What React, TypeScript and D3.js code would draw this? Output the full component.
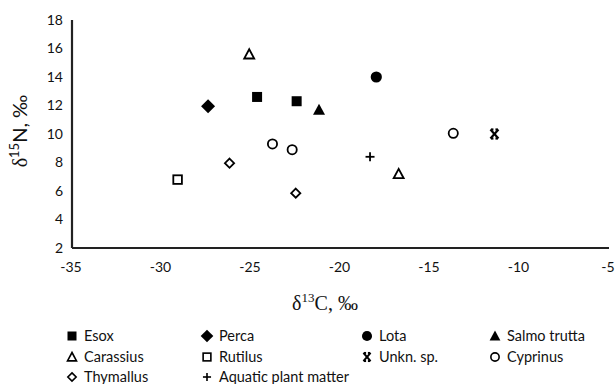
import React from "react";
import * as d3 from "d3";

const species = ["Esox", "Perca", "Lota", "Salmo trutta", "Carassius", "Rutilus", "Unkn. sp.", "Cyprinus", "Thymallus", "Aquatic plant matter"];
const markerKinds = ["squareFill", "diamondFill", "circleFill", "triangleFill", "triangleOpen", "squareOpen", "star", "circleOpen", "diamondOpen", "plus"];
const pointSpecies = ["Esox", "Esox", "Perca", "Lota", "Salmo trutta", "Carassius", "Carassius", "Rutilus", "Unkn. sp.", "Cyprinus", "Cyprinus", "Cyprinus", "Thymallus", "Thymallus", "Aquatic plant matter"];
const d13C = [-24.66, -22.45, -27.4, -18.0, -21.2, -25.1, -16.75, -29.1, -11.4, -23.8, -22.7, -13.7, -26.2, -22.5, -18.35];
const d15N = [12.6, 12.3, 11.95, 14.0, 11.7, 15.6, 7.2, 6.8, 10.0, 9.3, 8.9, 10.05, 7.95, 5.85, 8.4];
const xTicks = [-35, -30, -25, -20, -15, -10, -5];
const yTicks = [2, 4, 6, 8, 10, 12, 14, 16, 18];

const FONT = "Lato, 'Open Sans', sans-serif";

function Marker({ kind, x, y, s }: { kind: string; x: number; y: number; s: number }) {
  const k = s / 10;
  const sw = 1.8 * Math.max(k, 0.8);
  switch (kind) {
    case "squareFill":
      return <rect x={x - 5 * k} y={y - 5 * k} width={10 * k} height={10 * k} fill="#000" />;
    case "squareOpen":
      return <rect x={x - 4.3 * k} y={y - 4.3 * k} width={8.6 * k} height={8.6 * k} fill="#fff" stroke="#000" strokeWidth={sw} />;
    case "diamondFill":
      return <path d={`M${x},${y - 7 * k}L${x + 7 * k},${y}L${x},${y + 7 * k}L${x - 7 * k},${y}Z`} fill="#000" />;
    case "diamondOpen":
      return <path d={`M${x},${y - 4.6 * k}L${x + 4.6 * k},${y}L${x},${y + 4.6 * k}L${x - 4.6 * k},${y}Z`} fill="#fff" stroke="#000" strokeWidth={sw} />;
    case "circleFill":
      return <circle cx={x} cy={y} r={5.6 * k} fill="#000" />;
    case "circleOpen":
      return <circle cx={x} cy={y} r={4.6 * k} fill="#fff" stroke="#000" strokeWidth={sw} />;
    case "triangleFill":
      return <path d={`M${x},${y - 6 * k}L${x + 6 * k},${y + 5 * k}L${x - 6 * k},${y + 5 * k}Z`} fill="#000" />;
    case "triangleOpen":
      return <path d={`M${x},${y - 5 * k}L${x + 5 * k},${y + 4.3 * k}L${x - 5 * k},${y + 4.3 * k}Z`} fill="#fff" stroke="#000" strokeWidth={sw} strokeLinejoin="miter" />;
    case "star":
      return (
        <g stroke="#000" strokeWidth={2.2 * Math.max(k, 0.8)}>
          <line x1={x - 4 * k} y1={y - 4.5 * k} x2={x + 4 * k} y2={y + 4.5 * k} />
          <line x1={x + 4 * k} y1={y - 4.5 * k} x2={x - 4 * k} y2={y + 4.5 * k} />
          <line x1={x - 3.5 * k} y1={y - 4.5 * k} x2={x - 1 * k} y2={y - 4.5 * k} />
          <line x1={x + 1 * k} y1={y - 4.5 * k} x2={x + 3.5 * k} y2={y - 4.5 * k} />
          <line x1={x - 3.5 * k} y1={y + 4.5 * k} x2={x - 1 * k} y2={y + 4.5 * k} />
          <line x1={x + 1 * k} y1={y + 4.5 * k} x2={x + 3.5 * k} y2={y + 4.5 * k} />
        </g>
      );
    case "plus":
      return (
        <g stroke="#000" strokeWidth={1.8 * Math.max(k, 0.8)}>
          <line x1={x - 4.5 * k} y1={y} x2={x + 4.5 * k} y2={y} />
          <line x1={x} y1={y - 4.5 * k} x2={x} y2={y + 4.5 * k} />
        </g>
      );
  }
  return null;
}

export default function App() {
  const W = 616, H = 384;
  const x = d3.scaleLinear().domain([-35, -5]).range([72, 609]);
  const y = d3.scaleLinear().domain([2, 18]).range([248, 20]);
  const kindOf = (sp: string) => markerKinds[species.indexOf(sp)];

  const legendCols = [72, 207, 367, 495];
  const legendRows = [336, 357, 377];

  return (
    <svg width={W} height={H} style={{ position: "absolute", left: 0, top: 0, background: "#fff" }} fontFamily={FONT}>
      <rect width={W} height={H} fill="#fff" />
      {/* axes */}
      <line x1={x(-35)} y1={y(2)} x2={x(-35)} y2={y(18)} stroke="#222" strokeWidth={2.2} />
      <line x1={x(-35)} y1={y(2)} x2={x(-5)} y2={y(2)} stroke="#222" strokeWidth={2.2} />
      {yTicks.map((t) => (
        <text key={t} x={63} y={y(t)} dy="0.35em" textAnchor="end" fontSize={14} fill="#111">{t}</text>
      ))}
      {xTicks.map((t) => (
        <text key={t} x={x(t) - 1} y={267} dy="0.35em" textAnchor="middle" fontSize={14} fill="#111">{t}</text>
      ))}
      {/* axis titles */}
      <text x={325} y={310} textAnchor="middle" fontSize={20} fontFamily="'Liberation Serif', serif" fill="#111">
        δ<tspan dy={-8} fontSize={13}>13</tspan><tspan dy={8}>C, ‰</tspan>
      </text>
      <text transform={`translate(27,131) rotate(-90)`} textAnchor="middle" fontSize={20} fill="#111">
        <tspan fontFamily="'Liberation Serif', serif">δ</tspan><tspan dy={-8} fontSize={13}>15</tspan><tspan dy={8}>N, ‰</tspan>
      </text>
      {/* points */}
      {d13C.map((c, i) => (
        <Marker key={i} kind={kindOf(pointSpecies[i])} x={x(c)} y={y(d15N[i])} s={10} />
      ))}
      {/* legend */}
      {species.map((sp, i) => {
        const col = i % 4, row = Math.floor(i / 4);
        const lx = legendCols[col], ly = legendRows[row];
        return (
          <g key={sp}>
            <Marker kind={markerKinds[i]} x={lx} y={ly} s={9} />
            <text x={lx + 12} y={ly} dy="0.35em" fontSize={14.5} fill="#111">{sp}</text>
          </g>
        );
      })}
    </svg>
  );
}
